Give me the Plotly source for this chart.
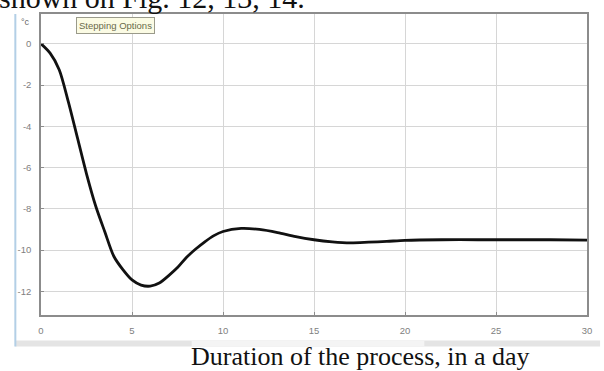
import plotly.graph_objects as go

# Step response of the temperature over the process duration
days = [0, 0.5, 1, 1.5, 2, 2.5, 3, 3.5, 4, 4.5, 5, 5.5, 6, 6.5, 7, 7.5, 8, 8.5,
        9, 9.5, 10, 11, 12, 13, 14, 15, 16, 17, 18, 19, 20, 22, 24, 26, 28, 30]
temp = [0, -0.45, -1.25, -2.8, -4.55, -6.3, -7.85, -9.1, -10.3, -10.95, -11.45,
        -11.7, -11.75, -11.6, -11.25, -10.85, -10.35, -9.95, -9.6, -9.3, -9.1,
        -8.95, -9.0, -9.15, -9.35, -9.5, -9.6, -9.65, -9.62, -9.58, -9.53, -9.5,
        -9.5, -9.5, -9.5, -9.52]

x_ticks = [0, 5, 10, 15, 20, 25, 30]
x_labels = ["0", "5", "10", "15", "20", "25", "30"]
y_ticks = [0, -2, -4, -6, -8, -10, -12]
y_labels = ["0", "-2", "-4", "-6", "-8", "-10", "-12"]

fig = go.Figure()
fig.add_trace(go.Scatter(
    x=days, y=temp, mode="lines",
    line=dict(color="#111111", width=2.8, shape="spline", smoothing=0.8),
    hoverinfo="skip", showlegend=False,
))

axis_common = dict(
    showgrid=True, gridcolor="#d6d6d6", gridwidth=1.4,
    showline=True, linecolor="#8c8c8c", linewidth=1.5, mirror=True,
    zeroline=False, ticks="inside", ticklen=3, tickcolor="#8c8c8c",
    tickfont=dict(family="Liberation Sans, Arial, sans-serif", size=9.5, color="#808080"),
)

fig.update_xaxes(range=[0, 30], tickvals=x_ticks, ticktext=x_labels,
                 ticklabelstandoff=6, **axis_common)
fig.update_yaxes(range=[-13.15, 1.45], tickvals=y_ticks, ticktext=y_labels,
                 ticklabelstandoff=6, **axis_common)

fig.update_layout(
    width=604, height=371,
    margin=dict(l=41, r=13, t=12, b=56),
    paper_bgcolor="white", plot_bgcolor="white",
    shapes=[
        # window edge on the left
        dict(type="line", xref="paper", yref="paper",
             x0=-0.047, x1=-0.047, y0=-0.105, y1=1.0,
             line=dict(color="#b3cfe6", width=2)),
        # scroll bar strip under the axis
        dict(type="rect", xref="paper", yref="paper",
             x0=-0.047, x1=1.024, y0=-0.105, y1=-0.085,
             fillcolor="#e4e4e4", line=dict(width=0), layer="below"),
        dict(type="rect", xref="paper", yref="paper",
             x0=0.276, x1=0.702, y0=-0.105, y1=-0.085,
             fillcolor="#f4f4f4", line=dict(width=0), layer="below"),
    ],
    annotations=[
        dict(text="°c", xref="paper", yref="paper", x=-0.04, y=0.975,
             xanchor="left", yanchor="middle", showarrow=False,
             font=dict(family="Liberation Sans, Arial, sans-serif", size=9, color="#666666")),
        dict(text="Stepping Options", xref="paper", yref="paper", x=0.065, y=0.99,
             xanchor="left", yanchor="top", showarrow=False,
             bgcolor="#fbfbe4", bordercolor="#9a9a8a", borderwidth=1, borderpad=2,
             font=dict(family="Liberation Sans, Arial, sans-serif", size=9.5, color="#6a6a4a")),
        dict(text="shown on Fig. 12, 13, 14.", xref="paper", yref="paper", x=-0.08, y=0.995,
             xanchor="left", yanchor="bottom", showarrow=False,
             font=dict(family="Liberation Serif, Times New Roman, serif", size=30, color="#111111")),
        dict(text="Duration of the process, in a day", xref="paper", yref="paper",
             x=0.585, y=-0.084, xanchor="center", yanchor="top", showarrow=False,
             font=dict(family="Liberation Serif, Times New Roman, serif", size=26, color="#111111")),
    ],
)

fig.write_html("out.html")
